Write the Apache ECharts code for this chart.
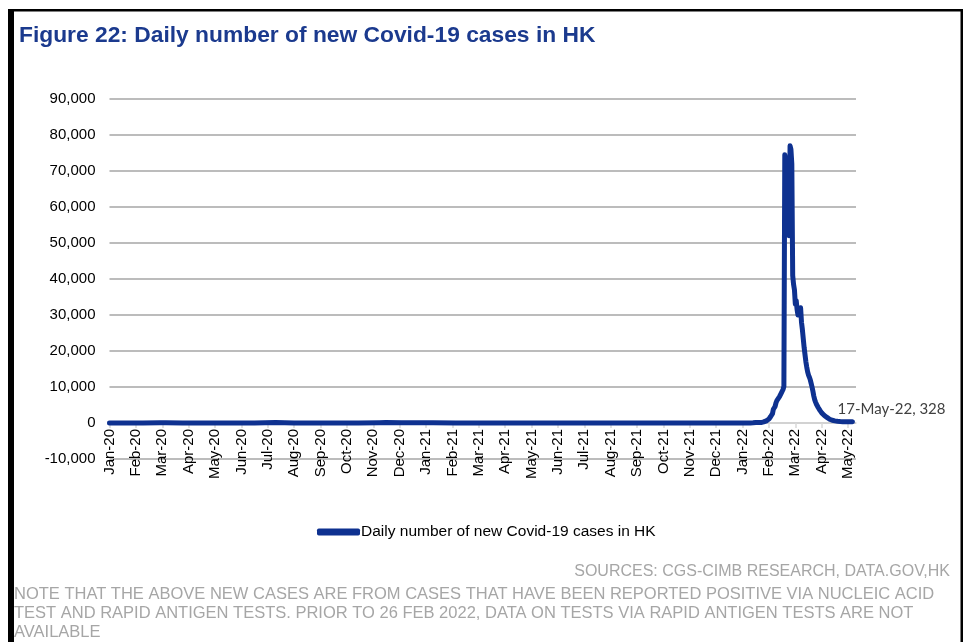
<!DOCTYPE html>
<html>
<head>
<meta charset="utf-8">
<script src="https://cdn.jsdelivr.net/npm/echarts@6/dist/echarts.min.js"></script>
<style>
  html, body { margin: 0; padding: 0; background: #ffffff; }
  #chart { width: 969px; height: 642px; }
</style>
</head>
<body>
<div id="chart"></div>
<script>
// Report dates are counted in days from the first report (23-Jan-2020).
const firstReport = '2020-01-23';
const lastAxisDay = 849;

// 2020-2021: only small numbers (invisible at this scale)
const earlyDates = [
  '2020-01-23', '2020-02-10', '2020-03-01', '2020-03-20', '2020-03-27', '2020-04-15',
  '2020-05-20', '2020-07-06', '2020-07-30', '2020-08-20', '2020-09-20', '2020-11-01',
  '2020-11-25', '2020-12-02', '2020-12-20', '2021-01-10', '2021-01-25', '2021-02-20',
  '2021-03-10', '2021-04-10', '2021-05-10', '2021-07-01', '2021-10-01', '2021-12-01',
  '2021-12-31'
];
const earlyCases = [
  1, 6, 2, 48, 65, 4,
  0, 10, 149, 18, 8, 6,
  80, 115, 85, 55, 81, 10,
  30, 10, 4, 2, 1, 5,
  15
];

// 2022: daily counts, one array per month
const jan2022 = [9, 8, 10, 14, 38, 22, 19, 29, 22, 21, 18, 17, 26, 24, 16, 21,
  23, 30, 17, 37, 30, 140, 125, 60, 69, 107, 160, 101, 100, 115, 150];
const feb2022 = [100, 120, 130, 140, 300, 350, 500, 600, 700, 900, 1100, 1400, 1800, 2100,
  2600, 3800, 4300, 4600, 5600, 6200, 6000, 6400, 7300, 7600, 8300, 8800, 9300, 10200];
const mar2022 = [74500, 74700, 74000, 70000, 60000, 52000, 77000, 76000, 72000, 41000,
  38500, 37000, 33000, 34000, 31500, 30000, 29500, 31000, 32000, 28000, 26000, 23500,
  21000, 19000, 17000, 15500, 14200, 13300, 12700, 12000, 11000];
const apr2022 = [10000, 8800, 7500, 6500, 5800, 5200, 4700, 4300, 3900, 3500, 3100, 2800,
  2500, 2300, 2100, 1900, 1750, 1550, 1350, 1200, 1050, 950, 830, 750, 700, 640, 590,
  540, 500, 480];
const may2022 = [450, 430, 410, 400, 390, 380, 370, 360, 350, 345, 340, 335, 330, 335,
  330, 325, 328];

const monthNames = ['Jan', 'Feb', 'Mar', 'Apr', 'May', 'Jun', 'Jul', 'Aug', 'Sep', 'Oct', 'Nov', 'Dec'];
const yTicks = { min: -10000, max: 90000, step: 10000 };
const labelEvery = 30; // date labels every 30 report days

const DAY = 86400000;
function toUTC(s) {
  const p = s.split('-').map(Number);
  return Date.UTC(p[0], p[1] - 1, p[2]);
}
const t0 = toUTC(firstReport);
function dayIndex(s) { return Math.round((toUTC(s) - t0) / DAY); }
function dayLabel(i) {
  const d = new Date(t0 + i * DAY);
  return monthNames[d.getUTCMonth()] + '-' + String(d.getUTCFullYear()).slice(2);
}
function longLabel(i) {
  const d = new Date(t0 + i * DAY);
  return d.getUTCDate() + '-' + dayLabel(i);
}

// assemble [day, cases] points
const points = [];
earlyDates.forEach((d, k) => points.push([dayIndex(d), earlyCases[k]]));
[[1, jan2022], [2, feb2022], [3, mar2022], [4, apr2022], [5, may2022]].forEach(([m, arr]) => {
  arr.forEach((v, k) => {
    const ds = '2022-' + String(m).padStart(2, '0') + '-' + String(k + 1).padStart(2, '0');
    points.push([dayIndex(ds), v]);
  });
});
const last = points[points.length - 1];

const labelDays = [];
for (let i = 0; i <= last[0]; i += labelEvery) labelDays.push(i);

const FONT = '"Liberation Sans", Arial, sans-serif';
const chart = echarts.init(document.getElementById('chart'), null, { renderer: 'canvas' });

// the x axis sits on the zero line: shift it up from the grid bottom
const gridTop = 99, gridBottomPx = 459;
const zeroShift = (gridBottomPx - gridTop) * (0 - yTicks.min) / (yTicks.max - yTicks.min);

chart.setOption({
  animation: false,
  backgroundColor: '#ffffff',
  title: [
    {
      text: 'Figure 22: Daily number of new Covid-19 cases in HK',
      left: 19, top: 24, padding: 0,
      textStyle: { fontFamily: FONT, fontSize: 22.8, fontWeight: 'bold', color: '#1B3A8E' }
    },
    {
      text: 'SOURCES: CGS-CIMB RESEARCH, DATA.GOV,HK',
      right: 19, top: 564, padding: 0,
      textStyle: { fontFamily: FONT, fontSize: 16, fontWeight: 'normal', color: '#a6a6a6' }
    },
    {
      text: 'NOTE THAT THE ABOVE NEW CASES ARE FROM CASES THAT HAVE BEEN REPORTED POSITIVE VIA NUCLEIC ACID\n' +
            'TEST AND RAPID ANTIGEN TESTS. PRIOR TO 26 FEB 2022, DATA ON TESTS VIA RAPID ANTIGEN TESTS ARE NOT\n' +
            'AVAILABLE',
      left: 14, top: 585, padding: 0,
      textStyle: { fontFamily: FONT, fontSize: 16.5, fontWeight: 'normal', color: '#a6a6a6', lineHeight: 19 }
    }
  ],
  legend: {
    left: 312, top: 519,
    icon: 'roundRect', itemWidth: 43, itemHeight: 7,
    textStyle: { fontFamily: FONT, fontSize: 15.5, color: '#000000', padding: [0, 0, 0, -4] },
    data: ['Daily number of new Covid-19 cases in HK']
  },
  grid: { left: 109.5, right: 113, top: gridTop, bottom: 642 - gridBottomPx, containLabel: false },
  xAxis: {
    type: 'value',
    min: 0, max: lastAxisDay,
    offset: -zeroShift,
    splitLine: { show: false },
    axisLine: { show: true, onZero: false, lineStyle: { color: '#d9d9d9', width: 1.5 } },
    axisTick: { show: true, length: 5, customValues: labelDays, lineStyle: { color: '#d9d9d9', width: 1.5 } },
    axisLabel: {
      customValues: labelDays,
      rotate: 90, margin: 6,
      fontFamily: FONT, fontSize: 15, color: '#000000',
      formatter: (v) => dayLabel(v)
    }
  },
  yAxis: {
    type: 'value',
    min: yTicks.min, max: yTicks.max, interval: yTicks.step,
    axisLine: { show: false },
    axisTick: { show: false },
    splitLine: { lineStyle: { color: '#a6a6a6', width: 1.5 } },
    axisLabel: {
      margin: 14, fontFamily: FONT, fontSize: 15, color: '#000000',
      formatter: (v) => v.toLocaleString('en-US')
    }
  },
  series: [{
    name: 'Daily number of new Covid-19 cases in HK',
    type: 'line',
    data: points,
    showSymbol: false,
    symbol: 'none',
    color: '#0E3190',
    lineStyle: { color: '#0E3190', width: 5, cap: 'round', join: 'round' },
    markPoint: {
      symbol: 'circle', symbolSize: 0,
      data: [{ coord: last, value: last[1] }],
      label: {
        show: true, position: 'inside', offset: [39, -13],
        fontFamily: 'Lato, "Open Sans", sans-serif', fontSize: 15, color: '#404040',
        formatter: () => longLabel(last[0]) + ', ' + last[1]
      }
    }
  }],
  graphic: [
    { type: 'rect', shape: { x: 8, y: 9, width: 6, height: 640 }, style: { fill: '#000000' }, silent: true },
    { type: 'rect', shape: { x: 8, y: 9, width: 955, height: 2.5 }, style: { fill: '#000000' }, silent: true },
    { type: 'rect', shape: { x: 960.5, y: 9, width: 2.5, height: 640 }, style: { fill: '#000000' }, silent: true }
  ]
});
</script>
</body>
</html>
